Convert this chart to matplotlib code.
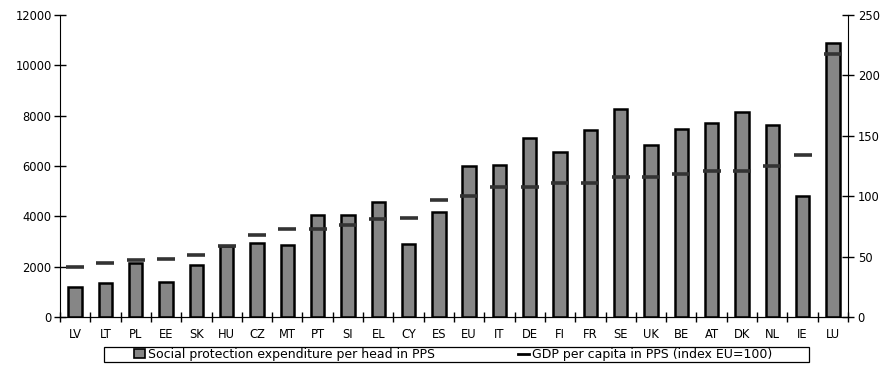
import numpy as np
import matplotlib.pyplot as plt
from matplotlib.patches import Patch, Rectangle
from matplotlib.lines import Line2D

# pays, tries par PIB
countries = ['LV', 'LT', 'PL', 'EE', 'SK', 'HU', 'CZ', 'MT', 'PT', 'SI', 'EL', 'CY', 'ES',
             'EU', 'IT', 'DE', 'FI', 'FR', 'SE', 'UK', 'BE', 'AT', 'DK', 'NL', 'IE', 'LU']
# depenses de protection sociale par tete (SPA)
spending = [1180, 1340, 2130, 1400, 2050, 2820, 2950, 2860, 4050, 4050, 4580, 2900, 4180,
            6010, 6040, 7110, 6540, 7420, 8260, 6830, 7470, 7700, 8130, 7620, 4800, 10900]
# PIB par habitant (UE=100)
gdp = [41, 45, 47, 48, 51, 59, 68, 73, 73, 76, 81, 82, 97,
       100, 108, 108, 111, 111, 116, 116, 118, 121, 121, 125, 134, 218]

plt.rcParams['font.family'] = 'DejaVu Sans'
plt.rcParams['font.size'] = 8.3

W, H = 894, 373
fig = plt.figure(figsize=(W / 100, H / 100), dpi=100)
ax = fig.add_axes([60 / W, 1 - 317 / H, 788 / W, 302 / H])
x = np.arange(len(countries))

ax.bar(x, spending, width=0.44, color='#868686', edgecolor='black', linewidth=1.8, zorder=2)
ax.set_xlim(-0.5, len(countries) - 0.5)
ax.set_ylim(0, 12000)
ax.set_yticks(np.arange(0, 12001, 2000))
ax.set_xticks(x)
ax.set_xticklabels(countries)
ax.set_xticks(np.arange(-0.5, len(countries), 1), minor=True)
ax.tick_params(axis='x', which='major', length=0, pad=8)
ax.tick_params(axis='x', which='minor', direction='inout', length=7, width=1)
ax.tick_params(axis='y', direction='inout', length=8, width=1, pad=2)
ax.spines['top'].set_visible(False)
ax.spines['right'].set_visible(False)

ax2 = ax.twinx()
ax2.plot(x, gdp, ls='none', marker='_', ms=13.5, mew=2.6, color='#333333', zorder=3)
ax2.set_ylim(0, 250)
ax2.set_yticks(np.arange(0, 251, 50))
ax2.tick_params(axis='y', direction='inout', length=8, width=1, pad=3)
ax2.spines['top'].set_visible(False)
ax2.spines['left'].set_visible(False)

# cadre de la legende
fig.patches.append(Rectangle((104 / W, 1 - 362 / H), 705 / W, 15 / H, transform=fig.transFigure,
                             facecolor='white', edgecolor='black', linewidth=0.9))

handles = [Patch(facecolor='#868686', edgecolor='black', linewidth=1.2),
           Line2D([], [], color='black', lw=2)]
labels = ['Social protection expenditure per head in PPS',
          'GDP per capita in PPS (index EU=100)']
leg = fig.legend(handles, labels, loc='center left', ncol=2, frameon=False,
                 bbox_to_anchor=(134 / W, 1 - 354.5 / H), borderpad=0, borderaxespad=0,
                 handlelength=0.85, handleheight=0.7, handletextpad=0.3,
                 columnspacing=6.6, fontsize=9)

fig.savefig('out.png', dpi=100)
